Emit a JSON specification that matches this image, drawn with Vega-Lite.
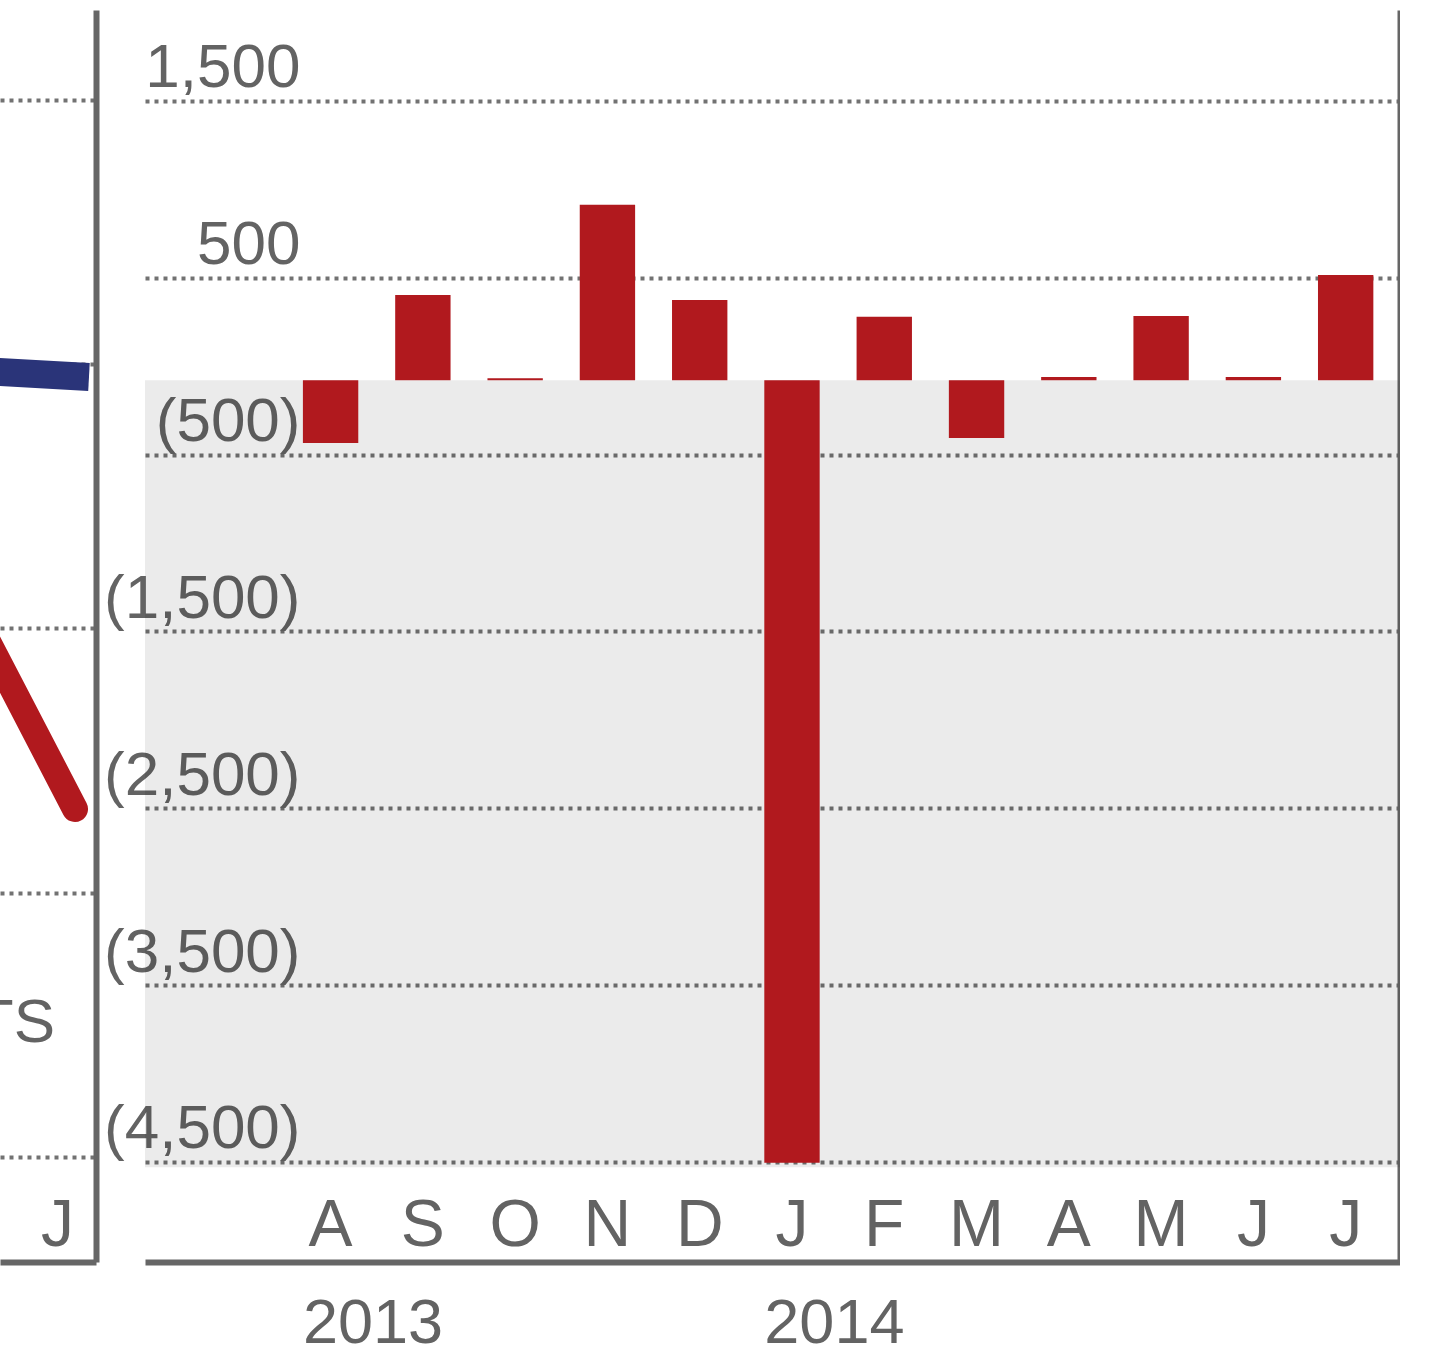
{
  "$schema": "https://vega.github.io/schema/vega-lite/v6.json",
  "background": "white",
  "padding": {"left": 0, "top": 10, "right": 0, "bottom": 0},
  "bounds": "flush",
  "spacing": 49,
  "config": {"view": {"stroke": null}, "font": "Liberation Sans", "axis": {"labelFont": "Liberation Sans", "labelLimit": 0}},
  "datasets": {
    "bars": [
      {"month": "Aug 2013", "value": -434},
      {"month": "Sep 2013", "value": 403},
      {"month": "Oct 2013", "value": -68},
      {"month": "Nov 2013", "value": 912},
      {"month": "Dec 2013", "value": 374},
      {"month": "Jan 2014", "value": -4505},
      {"month": "Feb 2014", "value": 279},
      {"month": "Mar 2014", "value": -406},
      {"month": "Apr 2014", "value": -62},
      {"month": "May 2014", "value": 284},
      {"month": "Jun 2014", "value": -62},
      {"month": "Jul 2014", "value": 516}
    ],
    "years": [
      {"year": "2013", "month": "Aug 2013"},
      {"year": "2014", "month": "Jan 2014"}
    ],
    "left_lines": [
      {"series": "A", "m": 11, "v": 2.974},
      {"series": "A", "m": 12, "v": 2.955},
      {"series": "B", "m": 11, "v": 1.987},
      {"series": "B", "m": 12, "v": 1.317}
    ]
  },
  "hconcat": [
    {
      "width": 96,
      "height": 1252,
      "layer": [
        {
          "data": {"name": "left_lines"},
          "transform": [{"filter": "datum.series == 'A'"}],
          "mark": {"type": "line", "color": "#2a3479", "strokeWidth": 28, "strokeCap": "square", "clip": true},
          "encoding": {
            "x": {"field": "m", "type": "quantitative",
              "scale": {"domain": [11.1848, 12.2283], "zero": false, "nice": false},
              "axis": {"values": [12], "labelExpr": "'J'", "labelOffset": -18, "labelPadding": -17, "labelBaseline": "alphabetic", "labelFontSize": 66, "labelColor": "#636363", "labelFlush": false, "ticks": false, "tickSize": 0, "domain": true, "domainColor": "#666", "domainWidth": 6, "grid": false, "title": null}},
            "y": {"field": "v", "type": "quantitative",
              "scale": {"domain": [-0.3974, 4.3406], "zero": false, "nice": false},
              "axis": {"orient": "left", "values": [0, 1, 2, 3, 4], "labels": false, "ticks": false, "tickSize": 0, "domain": false, "grid": true, "gridColor": "#727272", "gridDash": [4, 5], "gridWidth": 4, "title": null}}
          }
        },
        {
          "data": {"name": "left_lines"},
          "transform": [{"filter": "datum.series == 'B'"}],
          "mark": {"type": "line", "color": "#b1191e", "strokeWidth": 26, "strokeCap": "round", "clip": true},
          "encoding": {
            "x": {"field": "m", "type": "quantitative",
              "scale": {"domain": [11.1848, 12.2283], "zero": false, "nice": false},
              "axis": {"values": [12], "labelExpr": "'J'", "labelOffset": -18, "labelPadding": -17, "labelBaseline": "alphabetic", "labelFontSize": 66, "labelColor": "#636363", "labelFlush": false, "ticks": false, "tickSize": 0, "domain": true, "domainColor": "#666", "domainWidth": 6, "grid": false, "title": null}},
            "y": {"field": "v", "type": "quantitative", "scale": {"domain": [-0.3974, 4.3406], "zero": false, "nice": false}, "axis": null}
          }
        },
        {
          "data": {"values": [{"label": "TS"}]},
          "mark": {"type": "text", "align": "right", "baseline": "alphabetic", "fontSize": 62, "color": "#636363", "font": "Liberation Sans", "clip": true},
          "encoding": {
            "text": {"field": "label"},
            "x": {"datum": 11.7826, "type": "quantitative",
              "scale": {"domain": [11.1848, 12.2283], "zero": false, "nice": false},
              "axis": {"values": [12], "labelExpr": "'J'", "labelOffset": -18, "labelPadding": -17, "labelBaseline": "alphabetic", "labelFontSize": 66, "labelColor": "#636363", "labelFlush": false, "ticks": false, "tickSize": 0, "domain": true, "domainColor": "#666", "domainWidth": 6, "grid": false, "title": null}},
            "y": {"datum": 0.435, "type": "quantitative", "scale": {"domain": [-0.3974, 4.3406], "zero": false, "nice": false},
              "axis": {"orient": "right", "labels": false, "ticks": false, "tickSize": 0, "grid": false, "domain": true, "domainColor": "#666", "domainWidth": 6, "title": null}}
          }
        }
      ],
      "resolve": {"axis": {"y": "independent"}}
    },
    {
      "width": 1255,
      "height": 1252,
      "layer": [
        {
          "data": {"values": [{}]},
          "mark": {"type": "rect", "color": "black", "opacity": 0.08},
          "encoding": {
            "y": {"datum": -80, "type": "quantitative",
              "scale": {"domain": [-5066, 2014], "zero": false, "nice": false},
              "axis": {"orient": "left", "values": [1500, 500, -500, -1500, -2500, -3500, -4500],
                "labelExpr": "datum.value < 0 ? '(' + format(-datum.value, ',') + ')' : format(datum.value, ',')",
                "labelAlign": "right", "labelBaseline": "alphabetic", "labelPadding": -155, "labelOffset": -14,
                "labelFontSize": 62, "labelColor": "#636363", "labelLimit": 0, "ticks": false, "tickSize": 0, "domain": false,
                "grid": true, "gridColor": "#727272", "gridDash": [4, 5], "gridWidth": 4, "title": null}},
            "y2": {"datum": -4530}
          }
        },
        {
          "data": {"name": "bars"},
          "mark": {"type": "bar", "color": "#b1191e"},
          "encoding": {
            "x": {"field": "month", "type": "nominal", "sort": null,
              "scale": {"domain": ["Aug 2013", "Sep 2013", "Oct 2013", "Nov 2013", "Dec 2013", "Jan 2014", "Feb 2014", "Mar 2014", "Apr 2014", "May 2014", "Jun 2014", "Jul 2014"], "paddingInner": 0.4, "paddingOuter": 1.0155, "align": 0.8556},
              "axis": {"labelExpr": "substring(datum.label, 0, 1)", "labelAngle": 0, "labelPadding": -17, "labelBaseline": "alphabetic", "labelFontSize": 66, "labelColor": "#636363", "ticks": false, "tickSize": 0, "domain": true, "domainColor": "#666", "domainWidth": 6, "grid": false, "title": null}},
            "y": {"field": "value", "type": "quantitative",
              "scale": {"domain": [-5066, 2014], "zero": false, "nice": false},
              "axis": {"orient": "right", "labels": false, "ticks": false, "tickSize": 0, "grid": false, "domain": true, "domainColor": "#666", "domainWidth": 6, "title": null}},
            "y2": {"datum": -80}
          }
        },
        {
          "data": {"name": "years"},
          "mark": {"type": "text", "align": "left", "baseline": "alphabetic", "fontSize": 63, "color": "#636363", "font": "Liberation Sans", "dx": 0},
          "encoding": {
            "text": {"field": "year"},
            "x": {"field": "month", "type": "nominal", "bandPosition": 0, "sort": null,
              "scale": {"domain": ["Aug 2013", "Sep 2013", "Oct 2013", "Nov 2013", "Dec 2013", "Jan 2014", "Feb 2014", "Mar 2014", "Apr 2014", "May 2014", "Jun 2014", "Jul 2014"], "paddingInner": 0.4, "paddingOuter": 1.0155, "align": 0.8556},
              "axis": {"labelExpr": "substring(datum.label, 0, 1)", "labelAngle": 0, "labelPadding": -17, "labelBaseline": "alphabetic", "labelFontSize": 66, "labelColor": "#636363", "ticks": false, "tickSize": 0, "domain": true, "domainColor": "#666", "domainWidth": 6, "grid": false, "title": null}},
            "y": {"datum": -5524, "type": "quantitative", "scale": {"domain": [-5066, 2014], "zero": false, "nice": false}, "axis": null}
          }
        }
      ],
      "resolve": {"axis": {"y": "independent"}}
    }
  ]
}
